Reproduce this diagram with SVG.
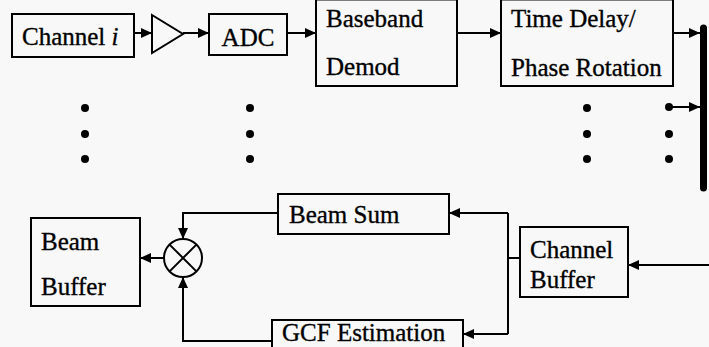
<svg xmlns="http://www.w3.org/2000/svg" width="709" height="347" viewBox="0 0 709 347">
<style>
.box{fill:none;stroke:#000;stroke-width:2}
.t{font-family:"Liberation Serif","Times New Roman",serif;font-size:25px;fill:#000;stroke:#000;stroke-width:0.35}
.c{fill:none;stroke:#000;stroke-width:2}
.a{marker-end:url(#arr)}
.dot{fill:#000}
</style>
<defs>
<marker id="arr" markerUnits="userSpaceOnUse" markerWidth="11" markerHeight="10" refX="11" refY="5" orient="auto">
<path d="M0,0 L11,5 L0,10 z" fill="#000"/>
</marker>
</defs>
<rect width="709" height="347" fill="#f8f8f8"/>
<g id="channel">
<rect class="box" x="12" y="14" width="122" height="43"/>
<text class="t" x="22" y="45">Channel <tspan font-style="italic">i</tspan></text>
</g>
<g id="amp">
<path class="box" d="M152,15 L183,34 L152,53 Z"/>
</g>
<g id="adc">
<rect class="box" x="209" y="14" width="78" height="41"/>
<text class="t" x="248" y="46" text-anchor="middle">ADC</text>
</g>
<g id="baseband">
<rect class="box" x="316" y="-0.5" width="141" height="86.5"/>
<text class="t" x="326" y="27">Baseband</text>
<text class="t" x="326" y="75">Demod</text>
</g>
<g id="timedelay">
<rect class="box" x="501" y="-0.5" width="172" height="86.5"/>
<text class="t" x="511" y="27">Time Delay/</text>
<text class="t" x="511" y="76">Phase Rotation</text>
</g>
<g id="dots">
<circle class="dot" cx="85" cy="108" r="4"/><circle class="dot" cx="85" cy="134" r="4"/><circle class="dot" cx="85" cy="159" r="4"/>
<circle class="dot" cx="250" cy="108" r="4"/><circle class="dot" cx="250" cy="134" r="4"/><circle class="dot" cx="250" cy="159" r="4"/>
<circle class="dot" cx="587" cy="108" r="4"/><circle class="dot" cx="587" cy="134" r="4"/><circle class="dot" cx="587" cy="159" r="4"/>
<circle class="dot" cx="669" cy="107" r="4"/><circle class="dot" cx="669" cy="134" r="4"/><circle class="dot" cx="669" cy="159" r="4"/>
</g>
<g id="bus">
<line x1="703.5" y1="28" x2="703.5" y2="188" stroke="#000" stroke-width="7" stroke-linecap="round"/>
</g>
<g id="beambuffer">
<rect class="box" x="31" y="218" width="109" height="88"/>
<text class="t" x="41" y="250">Beam</text>
<text class="t" x="41" y="295">Buffer</text>
</g>
<g id="multiplier">
<circle class="box" cx="183" cy="258" r="19"/>
<path class="c" d="M169.6,244.6 L196.4,271.4 M196.4,244.6 L169.6,271.4"/>
</g>
<g id="beamsum">
<rect class="box" x="278" y="194" width="171" height="40"/>
<text class="t" x="289" y="223">Beam Sum</text>
</g>
<g id="gcf">
<rect class="box" x="272" y="320" width="191" height="40"/>
<text class="t" x="282" y="341" font-size="24">GCF Estimation</text>
</g>
<g id="channelbuffer">
<rect class="box" x="520" y="227" width="108" height="70"/>
<text class="t" x="530" y="258">Channel</text>
<text class="t" x="530" y="288">Buffer</text>
</g>
<g id="connectors">
<path class="c a" d="M134,33 H152"/>
<path class="c a" d="M183,33 H209"/>
<path class="c a" d="M287,33 H316"/>
<path class="c a" d="M457,33 H501"/>
<path class="c a" d="M673,33 H700"/>
<path class="c a" d="M669,107 H700"/>
<path class="c a" d="M709,265 H628"/>
<path class="c" d="M520,258 H508 M508,213 V334"/>
<path class="c a" d="M508,213 H449"/>
<path class="c a" d="M508,334 H463"/>
<path class="c a" d="M278,213 H183 V239"/>
<path class="c a" d="M272,341 H183 V277"/>
<path class="c a" d="M164,258 H140"/>
</g>
</svg>
